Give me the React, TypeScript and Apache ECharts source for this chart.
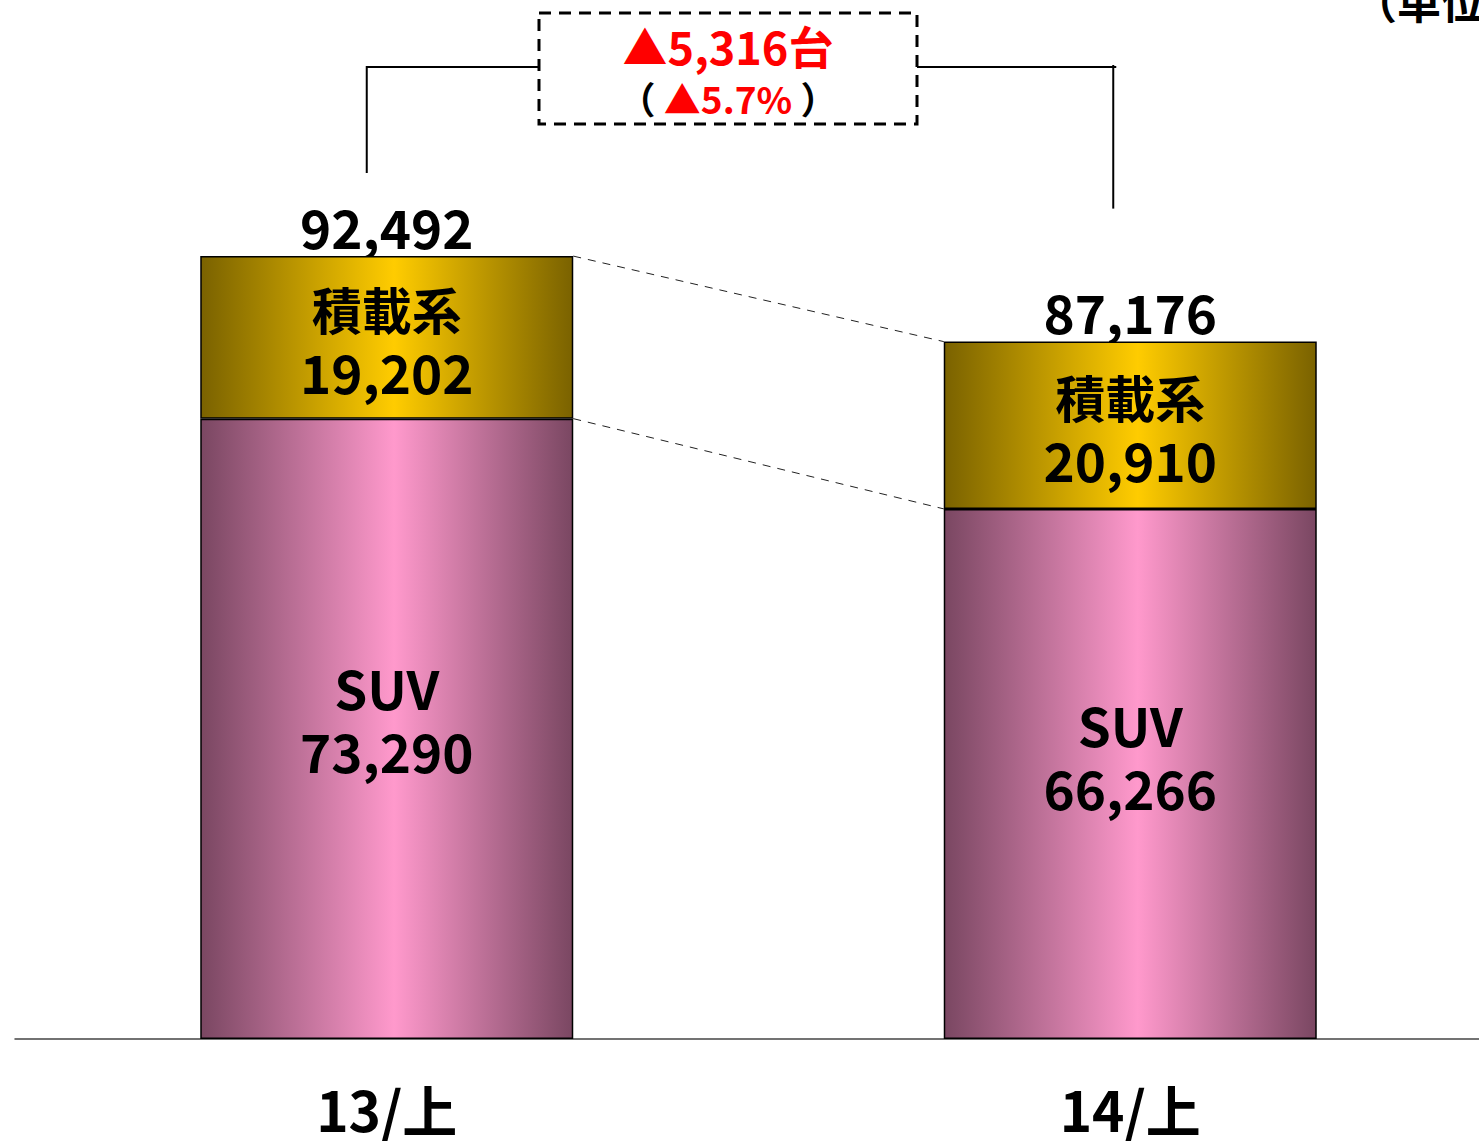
import React, { useEffect, useRef } from "react";
import * as echarts from "echarts";

const categories = ["13/上", "14/上"];
const suvValues = [73290, 66266];
const loadValues = [19202, 20910];
const totalValues = [92492, 87176];
const segmentNames = ["SUV", "積載系"];
const diffCount = "▲5,316台";
const diffPct = "▲5.7%";
const unitText = "（単位：台）";
// per-bar drawing scales (the source drew the two bars at slightly different scales)
const axisMax = [122746, 129878];

const FONT = "'Noto Sans CJK JP', 'Noto Sans', sans-serif";
const BAR_W = 373;
const NUM_SIZE = 53;

const fmt = (v: number) => v.toLocaleString("en-US");

export default function App() {
  const ref = useRef<HTMLDivElement>(null);
  useEffect(() => {
    const chart = echarts.init(ref.current!, null, { renderer: "svg" });
    const grad = (edge: string, mid: string) => ({
      type: "linear",
      x: 0,
      y: 0,
      x2: 1,
      y2: 0,
      colorStops: [
        { offset: 0, color: edge },
        { offset: 0.52, color: mid },
        { offset: 1, color: edge },
      ],
    });
    const pink = grad("#7a4762", "#ff99cc");
    const gold = grad("#7a6200", "#ffcc00");
    const numRich = {
      n: { fontSize: NUM_SIZE, fontFamily: FONT, fontWeight: "bold", color: "#000", lineHeight: 63 },
      k: { fontSize: 50, fontFamily: FONT, fontWeight: "bold", color: "#000", lineHeight: 63 },
    };
    const suvOffset = [-10, -18];
    const pick = (arr: number[], i: number) => arr.map((v, j) => (j === i ? v : "-"));
    const series: any[] = [];
    [0, 1].forEach((i) => {
      series.push({
        name: segmentNames[0],
        type: "bar",
        stack: "s" + i,
        yAxisIndex: i,
        barWidth: BAR_W,
        barGap: "-100%",
        data: pick(suvValues, i),
        itemStyle: { color: pink, borderColor: "#000", borderWidth: 1.5 },
        label: {
          show: true,
          position: "inside",
          offset: [0, suvOffset[i]],
          formatter: (p: any) => `{n|${segmentNames[0]}}\n{n|${fmt(p.value)}}`,
          rich: numRich,
        },
      });
      series.push({
        name: segmentNames[1],
        type: "bar",
        stack: "s" + i,
        yAxisIndex: i,
        barWidth: BAR_W,
        barGap: "-100%",
        data: pick(loadValues, i),
        itemStyle: { color: gold, borderColor: "#000", borderWidth: 1.5 },
        label: {
          show: true,
          position: "inside",
          offset: [0, 2],
          formatter: (p: any) => `{k|${segmentNames[1]}}\n{n|${fmt(p.value)}}`,
          rich: numRich,
        },
      });
      series.push({
        name: "total" + i,
        type: "bar",
        yAxisIndex: i,
        barWidth: BAR_W,
        barGap: "-100%",
        z: 0,
        silent: true,
        data: pick(totalValues, i),
        itemStyle: { color: "rgba(0,0,0,0)" },
        label: {
          show: true,
          position: "top",
          distance: 4,
          formatter: (p: any) => fmt(p.value),
          fontSize: NUM_SIZE,
          fontFamily: FONT,
          fontWeight: "bold",
          color: "#000",
        },
      });
    });

    chart.setOption({
      animation: false,
      grid: { left: 15, top: 0, right: -23, height: 1039, outerBoundsMode: "none", containLabel: false },
      xAxis: {
        type: "category",
        data: categories,
        axisLine: { lineStyle: { color: "#444", width: 1.5 } },
        axisTick: { show: false },
        axisLabel: {
          fontSize: 55,
          fontFamily: FONT,
          fontWeight: "bold",
          color: "#000",
          lineHeight: 46,
          margin: 46,
        },
      },
      yAxis: [0, 1].map((i) => ({
        type: "value",
        min: 0,
        max: axisMax[i],
        show: false,
        splitLine: { show: false },
      })),
      series,
    });

    const px = (i: number, v: number) =>
      chart.convertToPixel({ xAxisIndex: 0, yAxisIndex: i } as any, [i, v]) as number[];
    const t0 = px(0, totalValues[0]);
    const t1 = px(1, totalValues[1]);
    const s0 = px(0, suvValues[0]);
    const s1 = px(1, suvValues[1]);
    const dash = { stroke: "#222", lineWidth: 1, lineDash: [8, 7] };
    const solid = { stroke: "#000", lineWidth: 2 };
    const boxL = 539, boxR = 917, boxT = 13, boxB = 124, bracketY = 67;
    const leftX = t0[0] - 20;
    const rightX = t1[0] - 17;
    chart.setOption({
      graphic: [
        { type: "line", shape: { x1: t0[0] + BAR_W / 2, y1: t0[1], x2: t1[0] - BAR_W / 2, y2: t1[1] }, style: dash },
        { type: "line", shape: { x1: s0[0] + BAR_W / 2, y1: s0[1], x2: s1[0] - BAR_W / 2, y2: s1[1] }, style: dash },
        { type: "polyline", shape: { points: [[leftX, t0[1] - 83], [leftX, bracketY], [boxL, bracketY]] }, style: { ...solid, fill: null } },
        { type: "polyline", shape: { points: [[boxR, bracketY], [rightX + 3, bracketY]] }, style: { ...solid, fill: null } },
        { type: "line", shape: { x1: rightX, y1: bracketY - 2, x2: rightX, y2: t1[1] - 133 }, style: solid },
        {
          type: "rect",
          shape: { x: boxL, y: boxT, width: boxR - boxL, height: boxB - boxT },
          style: { fill: "#fff", stroke: "#000", lineWidth: 3, lineDash: [12, 8] },
        },
        {
          type: "text",
          x: (boxL + boxR) / 2,
          y: 45,
          style: {
            text: diffCount,
            fill: "#ff0000",
            font: `bold 45px ${FONT}`,
            textAlign: "center",
            textVerticalAlign: "middle",
          },
        },
        {
          type: "text",
          x: (boxL + boxR) / 2,
          y: 98,
          style: {
            text: `{p|（ }{r|${diffPct}}{p| ）}`,
            textAlign: "center",
            textVerticalAlign: "middle",
            rich: {
              p: { fontSize: 37, fontFamily: FONT, fontWeight: "bold", fill: "#000" },
              r: { fontSize: 37, fontFamily: FONT, fontWeight: "bold", fill: "#ff0000" },
            },
          },
        },
        {
          type: "text",
          x: 1353,
          y: 0,
          style: {
            text: unitText,
            fill: "#000",
            font: `bold 44px ${FONT}`,
            textAlign: "left",
            textVerticalAlign: "middle",
          },
        },
      ],
    });

    return () => chart.dispose();
  }, []);
  return (
    <div
      ref={ref}
      style={{ position: "fixed", left: 0, top: 0, width: 1479, height: 1141, background: "#fff" }}
    />
  );
}
